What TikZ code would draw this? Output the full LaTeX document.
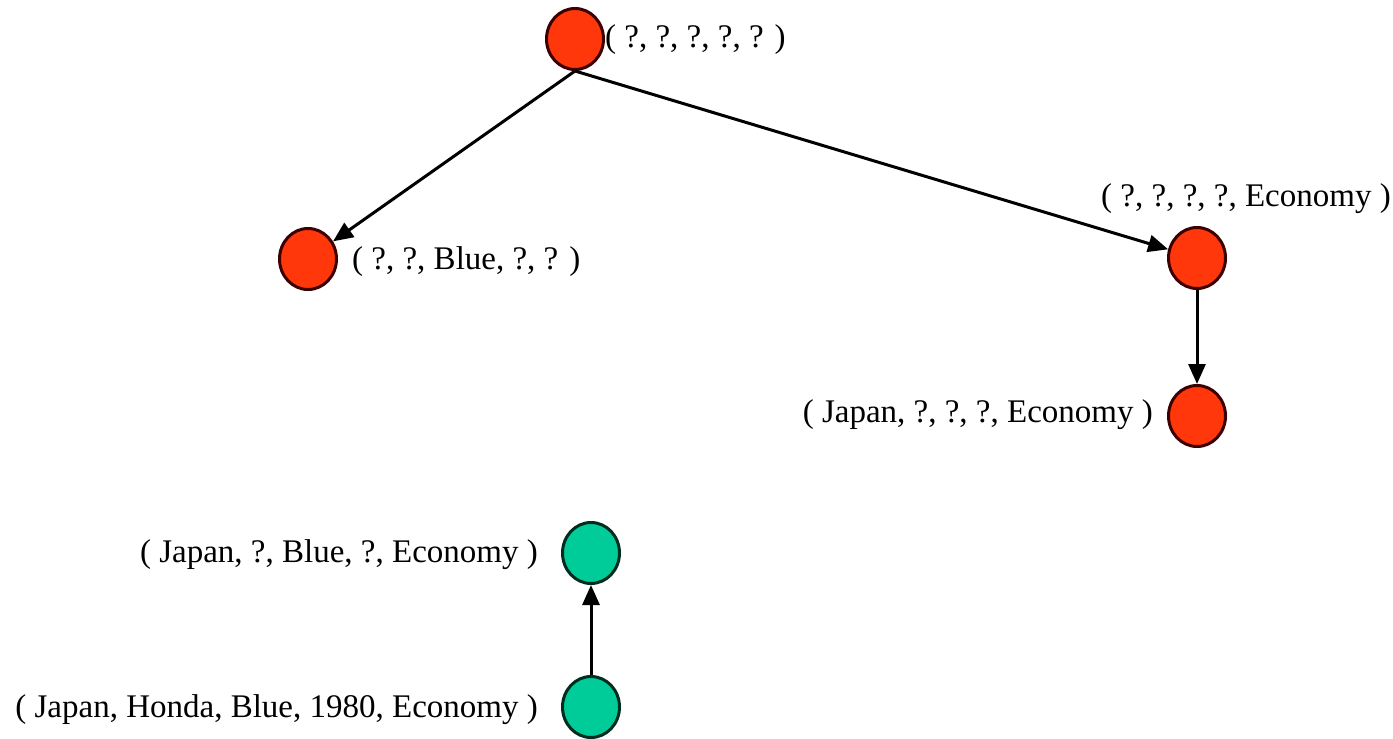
\documentclass[tikz,border=0pt]{standalone}
\usepackage{fontspec}
\setmainfont{Liberation Serif}
\usetikzlibrary{arrows.meta,shapes.geometric}
\definecolor{redfill}{RGB}{255,55,10}
\definecolor{redline}{RGB}{60,0,0}
\definecolor{greenfill}{RGB}{0,204,153}
\definecolor{greenline}{RGB}{0,45,30}
\tikzset{
  rednode/.style={ellipse, draw=redline, fill=redfill, line width=3pt, minimum width=57pt, minimum height=61pt, inner sep=0pt},
  greennode/.style={ellipse, draw=greenline, fill=greenfill, line width=3pt, minimum width=57pt, minimum height=61pt, inner sep=0pt},
  lab/.style={inner sep=0pt, font=\fontsize{33}{36}\selectfont, text=black},
  arr/.style={draw=black, line width=3pt, -{Triangle[length=20pt,width=17pt]}}
}
\begin{document}
\begin{tikzpicture}[x=1pt,y=-1pt]
\useasboundingbox (0,0) rectangle (1393,739);
\fill[white] (0,0) rectangle (1393,739);
\node[rednode] (n0) at (575,39) {};
\node[rednode] (n1) at (308,259) {};
\node[rednode] (n2) at (1197,258) {};
\node[rednode] (n3) at (1197,416) {};
\node[greennode] (g1) at (591,553) {};
\node[greennode] (g2) at (591,707) {};
\node[lab, anchor=west] (l0) at (605,40) {( ?, ?, ?, ?, ? )};
\node[lab, anchor=west] (l1) at (352,262) {( ?, ?, Blue, ?, ? )};
\node[lab, anchor=west] (l2) at (1101,199) {( ?, ?, ?, ?, Economy )};
\node[lab, anchor=east] (l3) at (1153,415) {( Japan, ?, ?, ?, Economy )};
\node[lab, anchor=east] (l4) at (538,555) {( Japan, ?, Blue, ?, Economy )};
\node[lab, anchor=east] (l5) at (538,710) {( Japan, Honda, Blue, 1980, Economy )};
\draw[arr] (n0.south) -- (n1);
\draw[arr] (n0.south) -- (n2);
\draw[arr] (n2) -- (n3);
\draw[arr] (g2) -- (g1);
\end{tikzpicture}
\end{document}
